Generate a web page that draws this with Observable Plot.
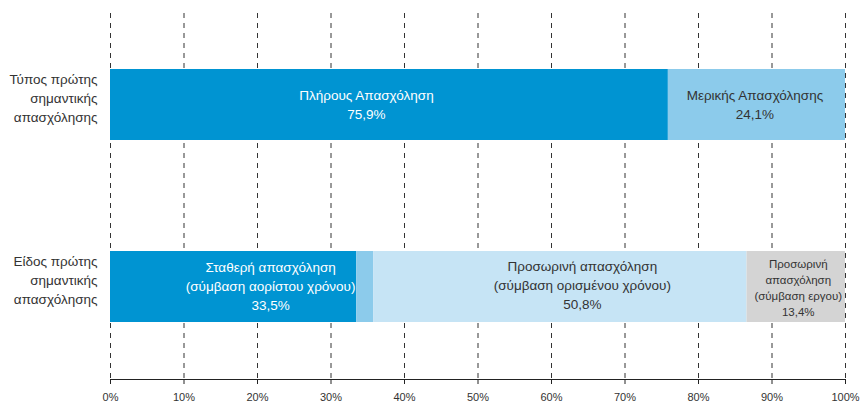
<!DOCTYPE html>
<html>
<head>
<meta charset="utf-8">
<script src="https://cdn.jsdelivr.net/npm/d3@7"></script>
<script src="https://cdn.jsdelivr.net/npm/@observablehq/plot@0.6"></script>
<style>
  html, body { margin: 0; padding: 0; background: #fff; }
  svg { overflow: visible; }
</style>
</head>
<body>
<div id="chart"></div>
<script>
// ---- data ----
const rows = [
  "Τύπος πρώτης\nσημαντικής\nαπασχόλησης",
  "Είδος πρώτης\nσημαντικής\nαπασχόλησης"
];
const row1Labels = ["Πλήρους Απασχόληση", "Μερικής Απασχόλησης"];
const row1Values = [75.9, 24.1];
const row2Labels = [
  "Σταθερή απασχόληση\n(σύμβαση αορίστου χρόνου)",
  "",
  "Προσωρινή απασχόληση\n(σύμβαση ορισμένου χρόνου)",
  "Προσωρινή\nαπασχόληση\n(σύμβαση εργου)"
];
const row2Values = [33.5, 2.3, 50.8, 13.4];
const xTicks = [0, 10, 20, 30, 40, 50, 60, 70, 80, 90, 100];

// ---- build segments ----
const segKeys = ["full", "part", "stable", "other", "temp", "project"];
const segColors = ["#0094d2", "#8ccbeb", "#0094d2", "#8ccbeb", "#c6e4f5", "#d4d4d4"];
const fmt = v => v.toFixed(1).replace(".", ",") + "%";

function build(row, labels, values, keys) {
  let acc = 0;
  return values.map((v, i) => {
    const s = {row, key: keys[i], label: labels[i], value: v, x1: acc, x2: acc + v};
    acc += v;
    return s;
  });
}
const segments = [
  ...build(rows[0], row1Labels, row1Values, segKeys.slice(0, 2)),
  ...build(rows[1], row2Labels, row2Values, segKeys.slice(2))
];

// label styling per segment
const labelStyle = {
  full:    {dx: -23, dy: -1.5, fill: "#fff", fontSize: 13.5, lh: 1.42},
  part:    {dx: -2,  dy: -1.5, fill: "#333", fontSize: 13.5, lh: 1.42},
  stable:  {dx: 37,  dy: -2,   fill: "#fff", fontSize: 13.5, lh: 1.42},
  temp:    {dx: 22,  dy: -3,   fill: "#333", fontSize: 13.5, lh: 1.42},
  project: {dx: 2,   dy: 0,    fill: "#333", fontSize: 11.5, lh: 1.4}
};

const font = "'Liberation Sans', Arial, Helvetica, sans-serif";

const labelMarks = segments.filter(s => s.label).map(s => {
  const st = labelStyle[s.key];
  return Plot.text([s], {
    x: d => (d.x1 + d.x2) / 2,
    y: "row",
    text: d => d.label + "\n" + fmt(d.value),
    fill: st.fill,
    fontSize: st.fontSize,
    lineHeight: st.lh,
    dx: st.dx,
    dy: st.dy,
    textAnchor: "middle"
  });
});

const plot = Plot.plot({
  width: 860,
  height: 404,
  marginLeft: 110,
  marginRight: 15,
  marginTop: 13,
  marginBottom: 25,
  style: {fontFamily: font, fontSize: "13px", color: "#333", background: "#fff"},
  x: {domain: [0, 100], ticks: xTicks},
  y: {domain: rows, paddingInner: 0.608, paddingOuter: 0.3065, label: null},
  color: {domain: segKeys, range: segColors},
  marks: [
    Plot.gridX(xTicks, {stroke: "#333", strokeOpacity: 1, strokeDasharray: "5,5"}),
    Plot.barX(segments, {y: "row", x1: "x1", x2: "x2", fill: "key"}),
    ...labelMarks,
    Plot.frame({anchor: "bottom", stroke: "#222"}),
    Plot.axisX(xTicks, {tickFormat: d => d + "%", tickSize: 5, tickPadding: 9, fontSize: 11, stroke: "#222", fill: "#333", label: null}),
    Plot.axisY({tickSize: 0, tickPadding: 13, fontSize: 13.5, lineHeight: 1.42, dy: -8, fill: "#333", label: null})
  ]
});
document.getElementById("chart").appendChild(plot);
</script>
</body>
</html>
